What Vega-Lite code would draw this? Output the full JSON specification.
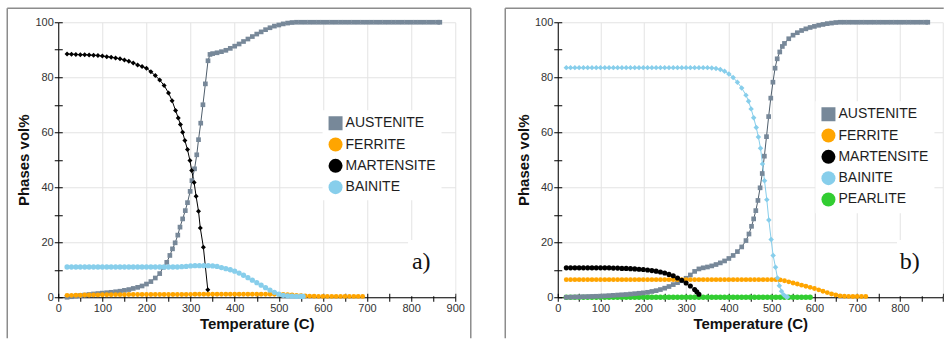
{
"$schema": "https://vega.github.io/schema/vega-lite/v6.json",
"padding": {"left": 6.25, "top": 7.25, "right": 0, "bottom": 0},
"spacing": 31.5,
"bounds": "full",
"resolve": {"scale": {"fill": "independent", "shape": "independent", "size": "independent", "stroke": "independent", "color": "independent"}, "legend": {"fill": "independent", "shape": "independent", "size": "independent"}},
"config": {
"view": {"stroke": null},
"font": "Liberation Sans",
"axis": {"domainColor": "#000", "tickColor": "#000", "tickSize": 4, "labelPadding": 1, "labelFontSize": 11, "labelColor": "#333", "labelFont": "Liberation Sans", "titleFont": "Liberation Sans", "titleFontSize": 15, "titleFontWeight": "bold", "titleColor": "#111", "gridColor": "#e3e3e3", "labelOverlap": false, "labelFlush": false, "domainWidth": 1, "tickWidth": 1, "titlePadding": 3},
"legend": {"fillColor": "white", "padding": 6, "symbolSize": 196, "labelFontSize": 14, "labelFont": "Liberation Sans", "labelColor": "#1e1e1e", "rowPadding": 7.3, "labelOffset": 3, "symbolStrokeWidth": 0}
},
"datasets": {
"a": [
{"t":20,"v":0,"s":"AUSTENITE"},{"t":30,"v":0.2,"s":"AUSTENITE"},{"t":40,"v":0.4,"s":"AUSTENITE"},{"t":50,"v":0.6,"s":"AUSTENITE"},{"t":60,"v":0.8,"s":"AUSTENITE"},{"t":70,"v":1.0,"s":"AUSTENITE"},{"t":80,"v":1.2,"s":"AUSTENITE"},{"t":90,"v":1.35,"s":"AUSTENITE"},{"t":100,"v":1.5,"s":"AUSTENITE"},{"t":110,"v":1.65,"s":"AUSTENITE"},{"t":120,"v":1.8,"s":"AUSTENITE"},{"t":130,"v":2.0,"s":"AUSTENITE"},{"t":140,"v":2.2,"s":"AUSTENITE"},{"t":150,"v":2.5,"s":"AUSTENITE"},{"t":160,"v":2.8,"s":"AUSTENITE"},{"t":170,"v":3.2,"s":"AUSTENITE"},{"t":180,"v":3.6,"s":"AUSTENITE"},{"t":190,"v":4.1,"s":"AUSTENITE"},{"t":200,"v":4.8,"s":"AUSTENITE"},{"t":210,"v":5.7,"s":"AUSTENITE"},{"t":220,"v":7.0,"s":"AUSTENITE"},{"t":230,"v":8.6,"s":"AUSTENITE"},{"t":238,"v":10.9,"s":"AUSTENITE"},{"t":246,"v":12.7,"s":"AUSTENITE"},{"t":253,"v":15.2,"s":"AUSTENITE"},{"t":259,"v":17.6,"s":"AUSTENITE"},{"t":265,"v":19.8,"s":"AUSTENITE"},{"t":271,"v":22.6,"s":"AUSTENITE"},{"t":276,"v":25.5,"s":"AUSTENITE"},{"t":282,"v":28.5,"s":"AUSTENITE"},{"t":288,"v":31.5,"s":"AUSTENITE"},{"t":293,"v":34.4,"s":"AUSTENITE"},{"t":299,"v":38.5,"s":"AUSTENITE"},{"t":303,"v":42.4,"s":"AUSTENITE"},{"t":309,"v":46.7,"s":"AUSTENITE"},{"t":314,"v":51.8,"s":"AUSTENITE"},{"t":318,"v":57.3,"s":"AUSTENITE"},{"t":323,"v":63.3,"s":"AUSTENITE"},{"t":328,"v":70,"s":"AUSTENITE"},{"t":333.5,"v":77.6,"s":"AUSTENITE"},{"t":339.5,"v":86,"s":"AUSTENITE"},{"t":344,"v":88.3,"s":"AUSTENITE"},{"t":350,"v":88.6,"s":"AUSTENITE"},{"t":360,"v":88.9,"s":"AUSTENITE"},{"t":370,"v":89.3,"s":"AUSTENITE"},{"t":380,"v":89.8,"s":"AUSTENITE"},{"t":390,"v":90.5,"s":"AUSTENITE"},{"t":400,"v":91.3,"s":"AUSTENITE"},{"t":410,"v":92.1,"s":"AUSTENITE"},{"t":420,"v":93,"s":"AUSTENITE"},{"t":430,"v":93.9,"s":"AUSTENITE"},{"t":440,"v":94.8,"s":"AUSTENITE"},{"t":450,"v":95.7,"s":"AUSTENITE"},{"t":460,"v":96.5,"s":"AUSTENITE"},{"t":470,"v":97.3,"s":"AUSTENITE"},{"t":480,"v":98,"s":"AUSTENITE"},{"t":490,"v":98.6,"s":"AUSTENITE"},{"t":500,"v":99,"s":"AUSTENITE"},{"t":510,"v":99.4,"s":"AUSTENITE"},{"t":520,"v":99.7,"s":"AUSTENITE"},{"t":530,"v":99.9,"s":"AUSTENITE"},{"t":540,"v":100,"s":"AUSTENITE"},{"t":550,"v":100,"s":"AUSTENITE"},{"t":560,"v":100,"s":"AUSTENITE"},{"t":570,"v":100,"s":"AUSTENITE"},{"t":580,"v":100,"s":"AUSTENITE"},{"t":590,"v":100,"s":"AUSTENITE"},{"t":600,"v":100,"s":"AUSTENITE"},{"t":610,"v":100,"s":"AUSTENITE"},{"t":620,"v":100,"s":"AUSTENITE"},{"t":630,"v":100,"s":"AUSTENITE"},{"t":640,"v":100,"s":"AUSTENITE"},{"t":650,"v":100,"s":"AUSTENITE"},{"t":660,"v":100,"s":"AUSTENITE"},{"t":670,"v":100,"s":"AUSTENITE"},{"t":680,"v":100,"s":"AUSTENITE"},{"t":690,"v":100,"s":"AUSTENITE"},{"t":700,"v":100,"s":"AUSTENITE"},{"t":710,"v":100,"s":"AUSTENITE"},{"t":720,"v":100,"s":"AUSTENITE"},{"t":730,"v":100,"s":"AUSTENITE"},{"t":740,"v":100,"s":"AUSTENITE"},{"t":750,"v":100,"s":"AUSTENITE"},{"t":760,"v":100,"s":"AUSTENITE"},{"t":770,"v":100,"s":"AUSTENITE"},{"t":780,"v":100,"s":"AUSTENITE"},{"t":790,"v":100,"s":"AUSTENITE"},{"t":800,"v":100,"s":"AUSTENITE"},{"t":810,"v":100,"s":"AUSTENITE"},{"t":820,"v":100,"s":"AUSTENITE"},{"t":830,"v":100,"s":"AUSTENITE"},{"t":840,"v":100,"s":"AUSTENITE"},{"t":850,"v":100,"s":"AUSTENITE"},{"t":860,"v":100,"s":"AUSTENITE"},{"t":865,"v":100,"s":"AUSTENITE"},
{"t":20,"v":0.7,"s":"FERRITE"},{"t":30,"v":0.7,"s":"FERRITE"},{"t":40,"v":0.75,"s":"FERRITE"},{"t":50,"v":0.75,"s":"FERRITE"},{"t":60,"v":0.8,"s":"FERRITE"},{"t":70,"v":0.8,"s":"FERRITE"},{"t":80,"v":0.85,"s":"FERRITE"},{"t":90,"v":0.85,"s":"FERRITE"},{"t":100,"v":0.9,"s":"FERRITE"},{"t":110,"v":0.9,"s":"FERRITE"},{"t":120,"v":0.9,"s":"FERRITE"},{"t":130,"v":0.95,"s":"FERRITE"},{"t":140,"v":0.95,"s":"FERRITE"},{"t":150,"v":0.95,"s":"FERRITE"},{"t":160,"v":1.0,"s":"FERRITE"},{"t":170,"v":1.0,"s":"FERRITE"},{"t":180,"v":1.0,"s":"FERRITE"},{"t":190,"v":1.0,"s":"FERRITE"},{"t":200,"v":1.0,"s":"FERRITE"},{"t":210,"v":1.0,"s":"FERRITE"},{"t":220,"v":1.0,"s":"FERRITE"},{"t":230,"v":1.0,"s":"FERRITE"},{"t":240,"v":1.0,"s":"FERRITE"},{"t":250,"v":1.0,"s":"FERRITE"},{"t":260,"v":1.0,"s":"FERRITE"},{"t":270,"v":1.0,"s":"FERRITE"},{"t":280,"v":1.0,"s":"FERRITE"},{"t":290,"v":1.0,"s":"FERRITE"},{"t":300,"v":1.05,"s":"FERRITE"},{"t":310,"v":1.1,"s":"FERRITE"},{"t":320,"v":1.1,"s":"FERRITE"},{"t":330,"v":1.1,"s":"FERRITE"},{"t":340,"v":1.1,"s":"FERRITE"},{"t":350,"v":1.1,"s":"FERRITE"},{"t":360,"v":1.1,"s":"FERRITE"},{"t":370,"v":1.1,"s":"FERRITE"},{"t":380,"v":1.1,"s":"FERRITE"},{"t":390,"v":1.1,"s":"FERRITE"},{"t":400,"v":1.1,"s":"FERRITE"},{"t":410,"v":1.1,"s":"FERRITE"},{"t":420,"v":1.1,"s":"FERRITE"},{"t":430,"v":1.1,"s":"FERRITE"},{"t":440,"v":1.1,"s":"FERRITE"},{"t":450,"v":1.1,"s":"FERRITE"},{"t":460,"v":1.1,"s":"FERRITE"},{"t":470,"v":1.1,"s":"FERRITE"},{"t":480,"v":1.1,"s":"FERRITE"},{"t":490,"v":1.1,"s":"FERRITE"},{"t":500,"v":1.05,"s":"FERRITE"},{"t":510,"v":1.0,"s":"FERRITE"},{"t":520,"v":0.9,"s":"FERRITE"},{"t":530,"v":0.8,"s":"FERRITE"},{"t":540,"v":0.65,"s":"FERRITE"},{"t":550,"v":0.55,"s":"FERRITE"},{"t":560,"v":0.45,"s":"FERRITE"},{"t":570,"v":0.4,"s":"FERRITE"},{"t":580,"v":0.35,"s":"FERRITE"},{"t":590,"v":0.3,"s":"FERRITE"},{"t":600,"v":0.3,"s":"FERRITE"},{"t":610,"v":0.3,"s":"FERRITE"},{"t":620,"v":0.3,"s":"FERRITE"},{"t":630,"v":0.3,"s":"FERRITE"},{"t":640,"v":0.3,"s":"FERRITE"},{"t":650,"v":0.3,"s":"FERRITE"},{"t":660,"v":0.3,"s":"FERRITE"},{"t":670,"v":0.3,"s":"FERRITE"},{"t":680,"v":0.3,"s":"FERRITE"},{"t":690,"v":0.3,"s":"FERRITE"},
{"t":20,"v":88.5,"s":"MARTENSITE"},{"t":30,"v":88.4,"s":"MARTENSITE"},{"t":40,"v":88.3,"s":"MARTENSITE"},{"t":50,"v":88.2,"s":"MARTENSITE"},{"t":60,"v":88.2,"s":"MARTENSITE"},{"t":70,"v":88.1,"s":"MARTENSITE"},{"t":80,"v":88.0,"s":"MARTENSITE"},{"t":90,"v":87.9,"s":"MARTENSITE"},{"t":100,"v":87.7,"s":"MARTENSITE"},{"t":110,"v":87.5,"s":"MARTENSITE"},{"t":120,"v":87.3,"s":"MARTENSITE"},{"t":130,"v":87.0,"s":"MARTENSITE"},{"t":140,"v":86.7,"s":"MARTENSITE"},{"t":150,"v":86.3,"s":"MARTENSITE"},{"t":160,"v":85.8,"s":"MARTENSITE"},{"t":170,"v":85.2,"s":"MARTENSITE"},{"t":180,"v":84.5,"s":"MARTENSITE"},{"t":190,"v":83.9,"s":"MARTENSITE"},{"t":200,"v":83.3,"s":"MARTENSITE"},{"t":210,"v":82.0,"s":"MARTENSITE"},{"t":220,"v":80.6,"s":"MARTENSITE"},{"t":230,"v":79.0,"s":"MARTENSITE"},{"t":240,"v":77.0,"s":"MARTENSITE"},{"t":250,"v":74.3,"s":"MARTENSITE"},{"t":258,"v":71.5,"s":"MARTENSITE"},{"t":266,"v":67.9,"s":"MARTENSITE"},{"t":272,"v":65.2,"s":"MARTENSITE"},{"t":277,"v":62.8,"s":"MARTENSITE"},{"t":282,"v":60,"s":"MARTENSITE"},{"t":287,"v":57,"s":"MARTENSITE"},{"t":293,"v":53.7,"s":"MARTENSITE"},{"t":298.5,"v":49.7,"s":"MARTENSITE"},{"t":302.5,"v":46.1,"s":"MARTENSITE"},{"t":308,"v":41.7,"s":"MARTENSITE"},{"t":312.5,"v":36.7,"s":"MARTENSITE"},{"t":318,"v":31.3,"s":"MARTENSITE"},{"t":322,"v":25.2,"s":"MARTENSITE"},{"t":329,"v":18.2,"s":"MARTENSITE"},{"t":339,"v":2.7,"s":"MARTENSITE"},
{"t":20,"v":11,"s":"BAINITE"},{"t":30,"v":11,"s":"BAINITE"},{"t":40,"v":11,"s":"BAINITE"},{"t":50,"v":11,"s":"BAINITE"},{"t":60,"v":11,"s":"BAINITE"},{"t":70,"v":11,"s":"BAINITE"},{"t":80,"v":11,"s":"BAINITE"},{"t":90,"v":11,"s":"BAINITE"},{"t":100,"v":11,"s":"BAINITE"},{"t":110,"v":11,"s":"BAINITE"},{"t":120,"v":11,"s":"BAINITE"},{"t":130,"v":11,"s":"BAINITE"},{"t":140,"v":11,"s":"BAINITE"},{"t":150,"v":11,"s":"BAINITE"},{"t":160,"v":11,"s":"BAINITE"},{"t":170,"v":11,"s":"BAINITE"},{"t":180,"v":11,"s":"BAINITE"},{"t":190,"v":11,"s":"BAINITE"},{"t":200,"v":11,"s":"BAINITE"},{"t":210,"v":11,"s":"BAINITE"},{"t":220,"v":11,"s":"BAINITE"},{"t":230,"v":11,"s":"BAINITE"},{"t":240,"v":11,"s":"BAINITE"},{"t":250,"v":11,"s":"BAINITE"},{"t":260,"v":11,"s":"BAINITE"},{"t":270,"v":11,"s":"BAINITE"},{"t":280,"v":11.1,"s":"BAINITE"},{"t":290,"v":11.2,"s":"BAINITE"},{"t":300,"v":11.4,"s":"BAINITE"},{"t":310,"v":11.5,"s":"BAINITE"},{"t":320,"v":11.5,"s":"BAINITE"},{"t":330,"v":11.5,"s":"BAINITE"},{"t":340,"v":11.5,"s":"BAINITE"},{"t":350,"v":11.4,"s":"BAINITE"},{"t":360,"v":11.2,"s":"BAINITE"},{"t":370,"v":10.8,"s":"BAINITE"},{"t":380,"v":10.4,"s":"BAINITE"},{"t":390,"v":10.0,"s":"BAINITE"},{"t":400,"v":9.5,"s":"BAINITE"},{"t":410,"v":8.8,"s":"BAINITE"},{"t":420,"v":8.0,"s":"BAINITE"},{"t":430,"v":7.1,"s":"BAINITE"},{"t":440,"v":6.2,"s":"BAINITE"},{"t":450,"v":5.3,"s":"BAINITE"},{"t":460,"v":4.4,"s":"BAINITE"},{"t":470,"v":3.5,"s":"BAINITE"},{"t":480,"v":2.6,"s":"BAINITE"},{"t":490,"v":1.8,"s":"BAINITE"},{"t":500,"v":1.1,"s":"BAINITE"},{"t":510,"v":0.7,"s":"BAINITE"},{"t":520,"v":0.5,"s":"BAINITE"},{"t":530,"v":0.4,"s":"BAINITE"},{"t":540,"v":0.3,"s":"BAINITE"},{"t":550,"v":0.3,"s":"BAINITE"},{"t":555,"v":0.3,"s":"BAINITE"}
],
"b": [
{"t":20,"v":0,"s":"PEARLITE"},{"t":30,"v":0,"s":"PEARLITE"},{"t":40,"v":0,"s":"PEARLITE"},{"t":50,"v":0,"s":"PEARLITE"},{"t":60,"v":0,"s":"PEARLITE"},{"t":70,"v":0,"s":"PEARLITE"},{"t":80,"v":0,"s":"PEARLITE"},{"t":90,"v":0,"s":"PEARLITE"},{"t":100,"v":0,"s":"PEARLITE"},{"t":110,"v":0,"s":"PEARLITE"},{"t":120,"v":0,"s":"PEARLITE"},{"t":130,"v":0,"s":"PEARLITE"},{"t":140,"v":0,"s":"PEARLITE"},{"t":150,"v":0,"s":"PEARLITE"},{"t":160,"v":0,"s":"PEARLITE"},{"t":170,"v":0,"s":"PEARLITE"},{"t":180,"v":0,"s":"PEARLITE"},{"t":190,"v":0,"s":"PEARLITE"},{"t":200,"v":0,"s":"PEARLITE"},{"t":210,"v":0,"s":"PEARLITE"},{"t":220,"v":0,"s":"PEARLITE"},{"t":230,"v":0,"s":"PEARLITE"},{"t":240,"v":0,"s":"PEARLITE"},{"t":250,"v":0,"s":"PEARLITE"},{"t":260,"v":0,"s":"PEARLITE"},{"t":270,"v":0,"s":"PEARLITE"},{"t":280,"v":0,"s":"PEARLITE"},{"t":290,"v":0,"s":"PEARLITE"},{"t":300,"v":0,"s":"PEARLITE"},{"t":310,"v":0,"s":"PEARLITE"},{"t":320,"v":0,"s":"PEARLITE"},{"t":330,"v":0,"s":"PEARLITE"},{"t":340,"v":0,"s":"PEARLITE"},{"t":350,"v":0,"s":"PEARLITE"},{"t":360,"v":0,"s":"PEARLITE"},{"t":370,"v":0,"s":"PEARLITE"},{"t":380,"v":0,"s":"PEARLITE"},{"t":390,"v":0,"s":"PEARLITE"},{"t":400,"v":0,"s":"PEARLITE"},{"t":410,"v":0,"s":"PEARLITE"},{"t":420,"v":0,"s":"PEARLITE"},{"t":430,"v":0,"s":"PEARLITE"},{"t":440,"v":0,"s":"PEARLITE"},{"t":450,"v":0,"s":"PEARLITE"},{"t":460,"v":0,"s":"PEARLITE"},{"t":470,"v":0,"s":"PEARLITE"},{"t":480,"v":0,"s":"PEARLITE"},{"t":490,"v":0,"s":"PEARLITE"},{"t":500,"v":0,"s":"PEARLITE"},{"t":510,"v":0,"s":"PEARLITE"},{"t":520,"v":0,"s":"PEARLITE"},{"t":530,"v":0,"s":"PEARLITE"},{"t":540,"v":0,"s":"PEARLITE"},{"t":550,"v":0,"s":"PEARLITE"},{"t":560,"v":0,"s":"PEARLITE"},{"t":570,"v":0,"s":"PEARLITE"},{"t":580,"v":0,"s":"PEARLITE"},{"t":590,"v":0,"s":"PEARLITE"},
{"t":20,"v":0,"s":"AUSTENITE"},{"t":30,"v":0.05,"s":"AUSTENITE"},{"t":40,"v":0.1,"s":"AUSTENITE"},{"t":50,"v":0.15,"s":"AUSTENITE"},{"t":60,"v":0.2,"s":"AUSTENITE"},{"t":70,"v":0.25,"s":"AUSTENITE"},{"t":80,"v":0.3,"s":"AUSTENITE"},{"t":90,"v":0.35,"s":"AUSTENITE"},{"t":100,"v":0.4,"s":"AUSTENITE"},{"t":110,"v":0.5,"s":"AUSTENITE"},{"t":120,"v":0.6,"s":"AUSTENITE"},{"t":130,"v":0.7,"s":"AUSTENITE"},{"t":140,"v":0.8,"s":"AUSTENITE"},{"t":150,"v":0.9,"s":"AUSTENITE"},{"t":160,"v":1.0,"s":"AUSTENITE"},{"t":170,"v":1.15,"s":"AUSTENITE"},{"t":180,"v":1.3,"s":"AUSTENITE"},{"t":190,"v":1.45,"s":"AUSTENITE"},{"t":200,"v":1.6,"s":"AUSTENITE"},{"t":210,"v":1.8,"s":"AUSTENITE"},{"t":220,"v":2.1,"s":"AUSTENITE"},{"t":230,"v":2.4,"s":"AUSTENITE"},{"t":240,"v":2.8,"s":"AUSTENITE"},{"t":250,"v":3.3,"s":"AUSTENITE"},{"t":260,"v":3.9,"s":"AUSTENITE"},{"t":270,"v":4.6,"s":"AUSTENITE"},{"t":280,"v":5.3,"s":"AUSTENITE"},{"t":290,"v":6.0,"s":"AUSTENITE"},{"t":300,"v":6.9,"s":"AUSTENITE"},{"t":310,"v":8.1,"s":"AUSTENITE"},{"t":320,"v":9.4,"s":"AUSTENITE"},{"t":330,"v":10.3,"s":"AUSTENITE"},{"t":340,"v":10.7,"s":"AUSTENITE"},{"t":350,"v":11.0,"s":"AUSTENITE"},{"t":360,"v":11.4,"s":"AUSTENITE"},{"t":370,"v":11.9,"s":"AUSTENITE"},{"t":380,"v":12.5,"s":"AUSTENITE"},{"t":390,"v":13.2,"s":"AUSTENITE"},{"t":400,"v":14.1,"s":"AUSTENITE"},{"t":410,"v":15.2,"s":"AUSTENITE"},{"t":420,"v":16.6,"s":"AUSTENITE"},{"t":430,"v":18.3,"s":"AUSTENITE"},{"t":440,"v":20.6,"s":"AUSTENITE"},{"t":447,"v":23,"s":"AUSTENITE"},{"t":453,"v":25.8,"s":"AUSTENITE"},{"t":458,"v":28.5,"s":"AUSTENITE"},{"t":463,"v":31.5,"s":"AUSTENITE"},{"t":468,"v":35.2,"s":"AUSTENITE"},{"t":473,"v":39.8,"s":"AUSTENITE"},{"t":478,"v":45,"s":"AUSTENITE"},{"t":483,"v":51.3,"s":"AUSTENITE"},{"t":488,"v":58.4,"s":"AUSTENITE"},{"t":493,"v":65.7,"s":"AUSTENITE"},{"t":498,"v":72.4,"s":"AUSTENITE"},{"t":503,"v":78.2,"s":"AUSTENITE"},{"t":508,"v":83.3,"s":"AUSTENITE"},{"t":513,"v":86.7,"s":"AUSTENITE"},{"t":519,"v":89.2,"s":"AUSTENITE"},{"t":525,"v":91.2,"s":"AUSTENITE"},{"t":530,"v":92.3,"s":"AUSTENITE"},{"t":540,"v":94,"s":"AUSTENITE"},{"t":550,"v":95.3,"s":"AUSTENITE"},{"t":560,"v":96.2,"s":"AUSTENITE"},{"t":570,"v":97,"s":"AUSTENITE"},{"t":580,"v":97.6,"s":"AUSTENITE"},{"t":590,"v":98.1,"s":"AUSTENITE"},{"t":600,"v":98.5,"s":"AUSTENITE"},{"t":610,"v":98.9,"s":"AUSTENITE"},{"t":620,"v":99.2,"s":"AUSTENITE"},{"t":630,"v":99.5,"s":"AUSTENITE"},{"t":640,"v":99.7,"s":"AUSTENITE"},{"t":650,"v":99.9,"s":"AUSTENITE"},{"t":660,"v":100,"s":"AUSTENITE"},{"t":670,"v":100,"s":"AUSTENITE"},{"t":680,"v":100,"s":"AUSTENITE"},{"t":690,"v":100,"s":"AUSTENITE"},{"t":700,"v":100,"s":"AUSTENITE"},{"t":710,"v":100,"s":"AUSTENITE"},{"t":720,"v":100,"s":"AUSTENITE"},{"t":730,"v":100,"s":"AUSTENITE"},{"t":740,"v":100,"s":"AUSTENITE"},{"t":750,"v":100,"s":"AUSTENITE"},{"t":760,"v":100,"s":"AUSTENITE"},{"t":770,"v":100,"s":"AUSTENITE"},{"t":780,"v":100,"s":"AUSTENITE"},{"t":790,"v":100,"s":"AUSTENITE"},{"t":800,"v":100,"s":"AUSTENITE"},{"t":810,"v":100,"s":"AUSTENITE"},{"t":820,"v":100,"s":"AUSTENITE"},{"t":830,"v":100,"s":"AUSTENITE"},{"t":840,"v":100,"s":"AUSTENITE"},{"t":850,"v":100,"s":"AUSTENITE"},{"t":860,"v":100,"s":"AUSTENITE"},{"t":865,"v":100,"s":"AUSTENITE"},
{"t":20,"v":6.4,"s":"FERRITE"},{"t":30,"v":6.4,"s":"FERRITE"},{"t":40,"v":6.4,"s":"FERRITE"},{"t":50,"v":6.4,"s":"FERRITE"},{"t":60,"v":6.4,"s":"FERRITE"},{"t":70,"v":6.4,"s":"FERRITE"},{"t":80,"v":6.4,"s":"FERRITE"},{"t":90,"v":6.4,"s":"FERRITE"},{"t":100,"v":6.4,"s":"FERRITE"},{"t":110,"v":6.4,"s":"FERRITE"},{"t":120,"v":6.4,"s":"FERRITE"},{"t":130,"v":6.4,"s":"FERRITE"},{"t":140,"v":6.4,"s":"FERRITE"},{"t":150,"v":6.4,"s":"FERRITE"},{"t":160,"v":6.4,"s":"FERRITE"},{"t":170,"v":6.4,"s":"FERRITE"},{"t":180,"v":6.4,"s":"FERRITE"},{"t":190,"v":6.4,"s":"FERRITE"},{"t":200,"v":6.4,"s":"FERRITE"},{"t":210,"v":6.4,"s":"FERRITE"},{"t":220,"v":6.4,"s":"FERRITE"},{"t":230,"v":6.4,"s":"FERRITE"},{"t":240,"v":6.4,"s":"FERRITE"},{"t":250,"v":6.4,"s":"FERRITE"},{"t":260,"v":6.4,"s":"FERRITE"},{"t":270,"v":6.4,"s":"FERRITE"},{"t":280,"v":6.4,"s":"FERRITE"},{"t":290,"v":6.4,"s":"FERRITE"},{"t":300,"v":6.4,"s":"FERRITE"},{"t":310,"v":6.4,"s":"FERRITE"},{"t":320,"v":6.4,"s":"FERRITE"},{"t":330,"v":6.4,"s":"FERRITE"},{"t":340,"v":6.4,"s":"FERRITE"},{"t":350,"v":6.4,"s":"FERRITE"},{"t":360,"v":6.4,"s":"FERRITE"},{"t":370,"v":6.4,"s":"FERRITE"},{"t":380,"v":6.4,"s":"FERRITE"},{"t":390,"v":6.4,"s":"FERRITE"},{"t":400,"v":6.4,"s":"FERRITE"},{"t":410,"v":6.4,"s":"FERRITE"},{"t":420,"v":6.4,"s":"FERRITE"},{"t":430,"v":6.4,"s":"FERRITE"},{"t":440,"v":6.4,"s":"FERRITE"},{"t":450,"v":6.4,"s":"FERRITE"},{"t":460,"v":6.4,"s":"FERRITE"},{"t":470,"v":6.4,"s":"FERRITE"},{"t":480,"v":6.4,"s":"FERRITE"},{"t":490,"v":6.4,"s":"FERRITE"},{"t":500,"v":6.4,"s":"FERRITE"},{"t":510,"v":6.4,"s":"FERRITE"},{"t":520,"v":6.3,"s":"FERRITE"},{"t":530,"v":6.0,"s":"FERRITE"},{"t":540,"v":5.6,"s":"FERRITE"},{"t":550,"v":5.2,"s":"FERRITE"},{"t":560,"v":4.8,"s":"FERRITE"},{"t":570,"v":4.4,"s":"FERRITE"},{"t":580,"v":4.0,"s":"FERRITE"},{"t":590,"v":3.6,"s":"FERRITE"},{"t":600,"v":3.2,"s":"FERRITE"},{"t":610,"v":2.7,"s":"FERRITE"},{"t":620,"v":2.2,"s":"FERRITE"},{"t":630,"v":1.7,"s":"FERRITE"},{"t":640,"v":1.2,"s":"FERRITE"},{"t":650,"v":0.8,"s":"FERRITE"},{"t":660,"v":0.5,"s":"FERRITE"},{"t":670,"v":0.35,"s":"FERRITE"},{"t":680,"v":0.3,"s":"FERRITE"},{"t":690,"v":0.25,"s":"FERRITE"},{"t":700,"v":0.25,"s":"FERRITE"},{"t":710,"v":0.25,"s":"FERRITE"},{"t":720,"v":0.25,"s":"FERRITE"},
{"t":20,"v":10.7,"s":"MARTENSITE"},{"t":30,"v":10.7,"s":"MARTENSITE"},{"t":40,"v":10.7,"s":"MARTENSITE"},{"t":50,"v":10.7,"s":"MARTENSITE"},{"t":60,"v":10.7,"s":"MARTENSITE"},{"t":70,"v":10.7,"s":"MARTENSITE"},{"t":80,"v":10.7,"s":"MARTENSITE"},{"t":90,"v":10.7,"s":"MARTENSITE"},{"t":100,"v":10.7,"s":"MARTENSITE"},{"t":110,"v":10.7,"s":"MARTENSITE"},{"t":120,"v":10.7,"s":"MARTENSITE"},{"t":130,"v":10.6,"s":"MARTENSITE"},{"t":140,"v":10.6,"s":"MARTENSITE"},{"t":150,"v":10.5,"s":"MARTENSITE"},{"t":160,"v":10.5,"s":"MARTENSITE"},{"t":170,"v":10.4,"s":"MARTENSITE"},{"t":180,"v":10.3,"s":"MARTENSITE"},{"t":190,"v":10.2,"s":"MARTENSITE"},{"t":200,"v":10.1,"s":"MARTENSITE"},{"t":210,"v":9.9,"s":"MARTENSITE"},{"t":220,"v":9.7,"s":"MARTENSITE"},{"t":230,"v":9.5,"s":"MARTENSITE"},{"t":240,"v":9.2,"s":"MARTENSITE"},{"t":250,"v":8.8,"s":"MARTENSITE"},{"t":260,"v":8.3,"s":"MARTENSITE"},{"t":270,"v":7.8,"s":"MARTENSITE"},{"t":280,"v":7.0,"s":"MARTENSITE"},{"t":290,"v":6.2,"s":"MARTENSITE"},{"t":300,"v":5.2,"s":"MARTENSITE"},{"t":310,"v":4.1,"s":"MARTENSITE"},{"t":320,"v":2.8,"s":"MARTENSITE"},{"t":325,"v":2.0,"s":"MARTENSITE"},{"t":330,"v":1.1,"s":"MARTENSITE"},
{"t":20,"v":83.5,"s":"BAINITE"},{"t":30,"v":83.5,"s":"BAINITE"},{"t":40,"v":83.5,"s":"BAINITE"},{"t":50,"v":83.5,"s":"BAINITE"},{"t":60,"v":83.5,"s":"BAINITE"},{"t":70,"v":83.5,"s":"BAINITE"},{"t":80,"v":83.5,"s":"BAINITE"},{"t":90,"v":83.5,"s":"BAINITE"},{"t":100,"v":83.5,"s":"BAINITE"},{"t":110,"v":83.5,"s":"BAINITE"},{"t":120,"v":83.5,"s":"BAINITE"},{"t":130,"v":83.5,"s":"BAINITE"},{"t":140,"v":83.5,"s":"BAINITE"},{"t":150,"v":83.5,"s":"BAINITE"},{"t":160,"v":83.5,"s":"BAINITE"},{"t":170,"v":83.5,"s":"BAINITE"},{"t":180,"v":83.5,"s":"BAINITE"},{"t":190,"v":83.5,"s":"BAINITE"},{"t":200,"v":83.5,"s":"BAINITE"},{"t":210,"v":83.5,"s":"BAINITE"},{"t":220,"v":83.5,"s":"BAINITE"},{"t":230,"v":83.5,"s":"BAINITE"},{"t":240,"v":83.5,"s":"BAINITE"},{"t":250,"v":83.5,"s":"BAINITE"},{"t":260,"v":83.5,"s":"BAINITE"},{"t":270,"v":83.5,"s":"BAINITE"},{"t":280,"v":83.5,"s":"BAINITE"},{"t":290,"v":83.5,"s":"BAINITE"},{"t":300,"v":83.5,"s":"BAINITE"},{"t":310,"v":83.5,"s":"BAINITE"},{"t":320,"v":83.5,"s":"BAINITE"},{"t":330,"v":83.5,"s":"BAINITE"},{"t":340,"v":83.5,"s":"BAINITE"},{"t":350,"v":83.5,"s":"BAINITE"},{"t":360,"v":83.4,"s":"BAINITE"},{"t":370,"v":83.2,"s":"BAINITE"},{"t":380,"v":82.8,"s":"BAINITE"},{"t":390,"v":82.2,"s":"BAINITE"},{"t":400,"v":81.2,"s":"BAINITE"},{"t":410,"v":79.9,"s":"BAINITE"},{"t":420,"v":78.2,"s":"BAINITE"},{"t":430,"v":76.1,"s":"BAINITE"},{"t":440,"v":73.5,"s":"BAINITE"},{"t":446,"v":71.3,"s":"BAINITE"},{"t":452,"v":68.5,"s":"BAINITE"},{"t":458,"v":65.3,"s":"BAINITE"},{"t":464,"v":61.7,"s":"BAINITE"},{"t":469,"v":58.3,"s":"BAINITE"},{"t":474,"v":54.2,"s":"BAINITE"},{"t":478.6,"v":48.5,"s":"BAINITE"},{"t":483.3,"v":42.4,"s":"BAINITE"},{"t":488.7,"v":35.5,"s":"BAINITE"},{"t":493.4,"v":28.1,"s":"BAINITE"},{"t":498.8,"v":21,"s":"BAINITE"},{"t":503.5,"v":15.2,"s":"BAINITE"},{"t":509,"v":10.9,"s":"BAINITE"},{"t":513.6,"v":7.0,"s":"BAINITE"},{"t":518,"v":4.2,"s":"BAINITE"},{"t":523,"v":2.2,"s":"BAINITE"},{"t":528,"v":0.9,"s":"BAINITE"},{"t":533,"v":0.3,"s":"BAINITE"},{"t":537,"v":0.1,"s":"BAINITE"}
]
},
"hconcat": [
{
"width": 397, "height": 275,
"resolve": {"axis": {"x": "independent", "y": "independent"}},
"layer": [
{"data": {"values": [{}]}, "mark": {"type": "rule", "stroke": "#8c8c8c", "strokeWidth": 1.5, "strokeCap": "butt"},
 "encoding": {"x": {"datum": -115.6, "scale": {"domain": [0, 900], "nice": false}, "axis": null}, "y": {"datum": 105.09, "scale": {"domain": [0, 100], "nice": false}, "axis": null}, "y2": {"datum": -14.9}}},
{"data": {"values": [{}]}, "mark": {"type": "rule", "stroke": "#8c8c8c", "strokeWidth": 1.5, "strokeCap": "butt"},
 "encoding": {"x": {"datum": -115.6, "scale": {"domain": [0, 900], "nice": false}, "axis": null}, "x2": {"datum": 935.2}, "y": {"datum": 105.09, "scale": {"domain": [0, 100], "nice": false}, "axis": null}}},
{"data": {"values": [{}]}, "mark": {"type": "rule", "stroke": "#8c8c8c", "strokeWidth": 1.5, "strokeCap": "butt"},
 "encoding": {"x": {"datum": 935.2, "scale": {"domain": [0, 900], "nice": false}, "axis": null}, "y": {"datum": 105.09, "scale": {"domain": [0, 100], "nice": false}, "axis": null}, "y2": {"datum": -14.9}}},
{"data": {"values": [{}]}, "mark": {"type": "rect", "fill": "white"},
 "encoding": {"x": {"datum": 793, "scale": {"domain": [0, 900], "nice": false}, "axis": null}, "x2": {"datum": 900}, "y": {"datum": 0.35, "scale": {"domain": [0, 100], "nice": false}, "axis": null}, "y2": {"datum": 20.8}}},
{"data": {"name": "a"},
 "transform": [{"filter": "datum.s === 'AUSTENITE'"}],
 "mark": {"type": "line", "strokeWidth": 1, "stroke": "#4f5e6c"},
 "encoding": {"x": {"field": "t", "type": "quantitative", "scale": {"domain": [0, 900], "nice": false}, "axis": null}, "y": {"field": "v", "type": "quantitative", "scale": {"domain": [0, 100], "nice": false}, "axis": null}}},
{"data": {"name": "a"},
 "transform": [{"filter": "datum.s === 'MARTENSITE'"}],
 "mark": {"type": "line", "strokeWidth": 1, "stroke": "#000000"},
 "encoding": {"x": {"field": "t", "type": "quantitative", "scale": {"domain": [0, 900], "nice": false}, "axis": null}, "y": {"field": "v", "type": "quantitative", "scale": {"domain": [0, 100], "nice": false}, "axis": null}}},
{"data": {"name": "a"},
 "transform": [{"filter": "datum.s !== 'MARTENSITE'"}],
 "mark": {"type": "point", "filled": true, "opacity": 1, "strokeWidth": 0},
 "encoding": {
  "x": {"field": "t", "type": "quantitative", "scale": {"domain": [0, 900], "nice": false},
   "axis": {"orient": "bottom", "title": "Temperature (C)", "values": [0,50,100,150,200,250,300,350,400,450,500,550,600,650,700,750,800,850,900], "labelExpr": "datum.value % 100 === 0 ? datum.label : ''", "grid": true, "gridOpacity": {"condition": {"test": "datum.value % 100 === 0", "value": 1}, "value": 0}}},
  "y": {"field": "v", "type": "quantitative", "scale": {"domain": [0, 100], "nice": false},
   "axis": {"orient": "left", "title": "Phases vol%", "values": [0,10,20,30,40,50,60,70,80,90,100], "labelExpr": "datum.value % 20 === 0 ? datum.label : ''", "grid": true, "gridOpacity": {"condition": {"test": "datum.value % 20 === 0", "value": 1}, "value": 0}}},
  "fill": {"field": "s", "type": "nominal", "scale": {"domain": ["AUSTENITE", "FERRITE", "MARTENSITE", "BAINITE"], "range": ["#778899", "#ffa500", "#000000", "#87ceeb"]},
   "legend": {"title": null, "orient": "none", "legendX": 264.3, "legendY": 88, "encode": {"symbols": {"size": {"value": 196}}}}},
  "shape": {"field": "s", "type": "nominal", "scale": {"domain": ["AUSTENITE", "FERRITE", "MARTENSITE", "BAINITE"], "range": ["square", "circle", "circle", "circle"]},
   "legend": {"title": null, "orient": "none", "legendX": 264.3, "legendY": 88, "encode": {"symbols": {"size": {"value": 196}}}}},
  "size": {"field": "s", "type": "nominal", "scale": {"domain": ["BAINITE", "MARTENSITE", "FERRITE", "AUSTENITE"], "range": [28, 22, 36, 44]}, "legend": null}
 }},
{"data": {"name": "a"},
 "transform": [{"filter": "datum.s === 'MARTENSITE'"}],
 "mark": {"type": "point", "filled": true, "opacity": 1, "strokeWidth": 0, "shape": "diamond", "size": 25, "fill": "#000000"},
 "encoding": {"x": {"field": "t", "type": "quantitative", "scale": {"domain": [0, 900], "nice": false}, "axis": null}, "y": {"field": "v", "type": "quantitative", "scale": {"domain": [0, 100], "nice": false}, "axis": null}}},
{"data": {"values": [{}]}, "mark": {"type": "text", "text": "a)", "font": "Liberation Serif", "fontSize": 24, "fill": "#111", "align": "center", "baseline": "alphabetic"},
 "encoding": {"x": {"datum": 823, "scale": {"domain": [0, 900], "nice": false},
   "axis": {"orient": "bottom", "values": [0,50,100,150,200,250,300,350,400,450,500,550,600,650,700,750,800,850,900], "tickSize": -4, "labels": false, "domain": false, "grid": false, "title": null}},
  "y": {"datum": 10.2, "scale": {"domain": [0, 100], "nice": false},
   "axis": {"orient": "left", "values": [0,10,20,30,40,50,60,70,80,90,100], "tickSize": -4, "labels": false, "domain": false, "grid": false, "title": null}}}}
]
},
{
"width": 385, "height": 275,
"resolve": {"axis": {"x": "independent", "y": "independent"}},
"layer": [
{"data": {"values": [{}]}, "mark": {"type": "rule", "stroke": "#8c8c8c", "strokeWidth": 1.5, "strokeCap": "butt"},
 "encoding": {"x": {"datum": -122.7, "scale": {"domain": [0, 900], "nice": false}, "axis": null}, "y": {"datum": 105.09, "scale": {"domain": [0, 100], "nice": false}, "axis": null}, "y2": {"datum": -14.9}}},
{"data": {"values": [{}]}, "mark": {"type": "rule", "stroke": "#8c8c8c", "strokeWidth": 1.5, "strokeCap": "butt"},
 "encoding": {"x": {"datum": -122.7, "scale": {"domain": [0, 900], "nice": false}, "axis": null}, "x2": {"datum": 902.3}, "y": {"datum": 105.09, "scale": {"domain": [0, 100], "nice": false}, "axis": null}}},
{"data": {"values": [{}]}, "mark": {"type": "rect", "fill": "white"},
 "encoding": {"x": {"datum": 793, "scale": {"domain": [0, 900], "nice": false}, "axis": null}, "x2": {"datum": 900}, "y": {"datum": 0.35, "scale": {"domain": [0, 100], "nice": false}, "axis": null}, "y2": {"datum": 20.8}}},
{"data": {"name": "b"},
 "transform": [{"filter": "datum.s === 'AUSTENITE'"}],
 "mark": {"type": "line", "strokeWidth": 1, "stroke": "#4f5e6c"},
 "encoding": {"x": {"field": "t", "type": "quantitative", "scale": {"domain": [0, 900], "nice": false}, "axis": null}, "y": {"field": "v", "type": "quantitative", "scale": {"domain": [0, 100], "nice": false}, "axis": null}}},
{"data": {"name": "b"},
 "transform": [{"filter": "datum.s === 'BAINITE'"}],
 "mark": {"type": "line", "strokeWidth": 1, "stroke": "#87ceeb"},
 "encoding": {"x": {"field": "t", "type": "quantitative", "scale": {"domain": [0, 900], "nice": false}, "axis": null}, "y": {"field": "v", "type": "quantitative", "scale": {"domain": [0, 100], "nice": false}, "axis": null}}},
{"data": {"name": "b"},
 "transform": [{"filter": "datum.s !== 'BAINITE'"}],
 "mark": {"type": "point", "filled": true, "opacity": 1, "strokeWidth": 0},
 "encoding": {
  "x": {"field": "t", "type": "quantitative", "scale": {"domain": [0, 900], "nice": false},
   "axis": {"orient": "bottom", "title": "Temperature (C)", "values": [0,50,100,150,200,250,300,350,400,450,500,550,600,650,700,750,800,850,900], "labelExpr": "datum.value % 100 === 0 && datum.value < 900 ? datum.label : ''", "grid": true, "gridOpacity": {"condition": {"test": "datum.value % 100 === 0", "value": 1}, "value": 0}}},
  "y": {"field": "v", "type": "quantitative", "scale": {"domain": [0, 100], "nice": false},
   "axis": {"orient": "left", "title": "Phases vol%", "values": [0,10,20,30,40,50,60,70,80,90,100], "labelExpr": "datum.value % 20 === 0 ? datum.label : ''", "grid": true, "gridOpacity": {"condition": {"test": "datum.value % 20 === 0", "value": 1}, "value": 0}}},
  "fill": {"field": "s", "type": "nominal", "scale": {"domain": ["AUSTENITE", "FERRITE", "MARTENSITE", "BAINITE", "PEARLITE"], "range": ["#778899", "#ffa500", "#000000", "#87ceeb", "#32cd32"]},
   "legend": {"title": null, "orient": "none", "legendX": 257.7, "legendY": 79, "encode": {"symbols": {"size": {"value": 196}}}}},
  "shape": {"field": "s", "type": "nominal", "scale": {"domain": ["AUSTENITE", "FERRITE", "MARTENSITE", "BAINITE", "PEARLITE"], "range": ["square", "circle", "circle", "circle", "circle"]},
   "legend": {"title": null, "orient": "none", "legendX": 257.7, "legendY": 79, "encode": {"symbols": {"size": {"value": 196}}}}},
  "size": {"field": "s", "type": "nominal", "scale": {"domain": ["PEARLITE", "BAINITE", "MARTENSITE", "FERRITE", "AUSTENITE"], "range": [30, 22, 36, 36, 44]}, "legend": null}
 }},
{"data": {"name": "b"},
 "transform": [{"filter": "datum.s === 'BAINITE'"}],
 "mark": {"type": "point", "filled": true, "opacity": 1, "strokeWidth": 0, "shape": "diamond", "size": 30, "fill": "#87ceeb"},
 "encoding": {"x": {"field": "t", "type": "quantitative", "scale": {"domain": [0, 900], "nice": false}, "axis": null}, "y": {"field": "v", "type": "quantitative", "scale": {"domain": [0, 100], "nice": false}, "axis": null}}},
{"data": {"values": [{}]}, "mark": {"type": "text", "text": "b)", "font": "Liberation Serif", "fontSize": 24, "fill": "#111", "align": "center", "baseline": "alphabetic"},
 "encoding": {"x": {"datum": 823, "scale": {"domain": [0, 900], "nice": false},
   "axis": {"orient": "bottom", "values": [0,50,100,150,200,250,300,350,400,450,500,550,600,650,700,750,800,850,900], "tickSize": -4, "labels": false, "domain": false, "grid": false, "title": null}},
  "y": {"datum": 10.2, "scale": {"domain": [0, 100], "nice": false},
   "axis": {"orient": "left", "values": [0,10,20,30,40,50,60,70,80,90,100], "tickSize": -4, "labels": false, "domain": false, "grid": false, "title": null}}}}
]
}
]
}
